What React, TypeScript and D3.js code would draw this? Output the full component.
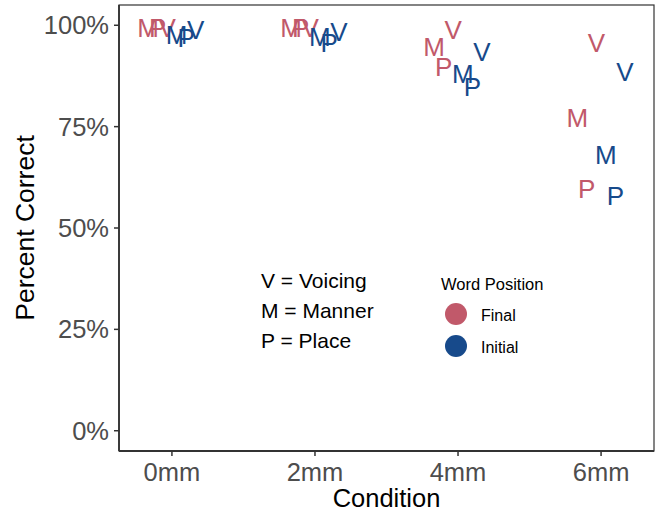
import React from "react";
import * as d3 from "d3";

// Percent correct by condition, feature and word position
const conditions = ["0mm", "2mm", "4mm", "6mm"];
const wordPositions = ["Final", "Initial"];
const features = ["M", "P", "V"];

const finalManner = [99.3, 99.4, 94.7, 77.1];
const finalPlace = [99.3, 99.4, 89.8, 59.8];
const finalVoicing = [99.3, 99.4, 99.0, 95.7];
const initialManner = [97.8, 97.2, 88.1, 68.2];
const initialPlace = [96.9, 95.8, 84.9, 57.9];
const initialVoicing = [98.8, 98.4, 93.5, 88.5];

const yTicks = [0, 25, 50, 75, 100];
const featureKey = ["V = Voicing", "M = Manner", "P = Place"];

const colors: Record<string, string> = { Final: "#C1596A", Initial: "#174A8B" };

const series = [
  { pos: "Final", feat: "M", values: finalManner },
  { pos: "Final", feat: "P", values: finalPlace },
  { pos: "Final", feat: "V", values: finalVoicing },
  { pos: "Initial", feat: "M", values: initialManner },
  { pos: "Initial", feat: "P", values: initialPlace },
  { pos: "Initial", feat: "V", values: initialVoicing },
];

const W = 660;
const H = 514;
const left = 119;
const right = 654;
const top = 5;
const bottom = 451;
const FONT = "'Liberation Sans', Arial, Helvetica, sans-serif";

export default function App() {
  const x = d3.scalePoint<string>().domain(conditions).range([left, right]).padding(0.37);
  const y = d3.scaleLinear().domain([-5, 105]).range([bottom, top]);
  const step = x.step();
  const dodge = 0.4;
  const nGroups = wordPositions.length * features.length;
  const labelSize = 26;
  const tickSize = 25.5;

  return (
    <svg width={W} height={H} style={{ position: "absolute", left: 0, top: 0, background: "#fff" }} fontFamily={FONT}>
      <rect x={0} y={0} width={W} height={H} fill="#fff" />
      {/* panel border */}
      <rect x={left} y={top} width={right - left} height={bottom - top} fill="none" stroke="#333" strokeWidth={1.2} />
      {/* axis lines */}
      <line x1={left} x2={left} y1={top} y2={bottom} stroke="#333" strokeWidth={1.8} />
      <line x1={left} x2={right} y1={bottom} y2={bottom} stroke="#333" strokeWidth={1.8} />

      {/* y axis */}
      {yTicks.map((t) => (
        <g key={t}>
          <line x1={left - 5} x2={left} y1={y(t)} y2={y(t)} stroke="#333" strokeWidth={1.5} />
          <text x={left - 10} y={y(t) + tickSize * 0.358} textAnchor="end" fontSize={tickSize} fill="#4D4D4D">
            {d3.format(".0%")(t / 100)}
          </text>
        </g>
      ))}
      {/* x axis */}
      {conditions.map((c) => (
        <g key={c}>
          <line x1={x(c)} x2={x(c)} y1={bottom} y2={bottom + 5} stroke="#333" strokeWidth={1.5} />
          <text x={x(c)} y={480.5} textAnchor="middle" fontSize={tickSize} fill="#4D4D4D">
            {c}
          </text>
        </g>
      ))}

      <text x={(left + right) / 2} y={507} textAnchor="middle" fontSize={25.5} fill="#000">
        Condition
      </text>
      <text
        transform={`translate(34, ${(top + bottom) / 2}) rotate(-90)`}
        textAnchor="middle"
        fontSize={26.5}
        fill="#000"
      >
        Percent Correct
      </text>

      {/* letter marks, dodged by word position and feature */}
      {series.map((s, gi) => {
        const off = (gi - (nGroups - 1) / 2) * (dodge / nGroups) * step;
        return s.values.map((v, i) => (
          <text
            key={`${s.pos}-${s.feat}-${i}`}
            x={(x(conditions[i]) as number) + off}
            y={y(v) + labelSize * 0.358}
            textAnchor="middle"
            fontSize={labelSize}
            fill={colors[s.pos]}
          >
            {s.feat}
          </text>
        ));
      })}

      {/* feature key */}
      {featureKey.map((k, i) => (
        <text key={k} x={261} y={288 + i * 30} fontSize={21} fill="#000">
          {k}
        </text>
      ))}

      {/* legend */}
      <text x={441} y={290} fontSize={16.5} fill="#000">
        Word Position
      </text>
      {wordPositions.map((p, i) => (
        <g key={p}>
          <circle cx={456} cy={314 + i * 32} r={11} fill={colors[p]} />
          <text x={481} y={320.5 + i * 32} fontSize={16} fill="#000">
            {p}
          </text>
        </g>
      ))}
    </svg>
  );
}
